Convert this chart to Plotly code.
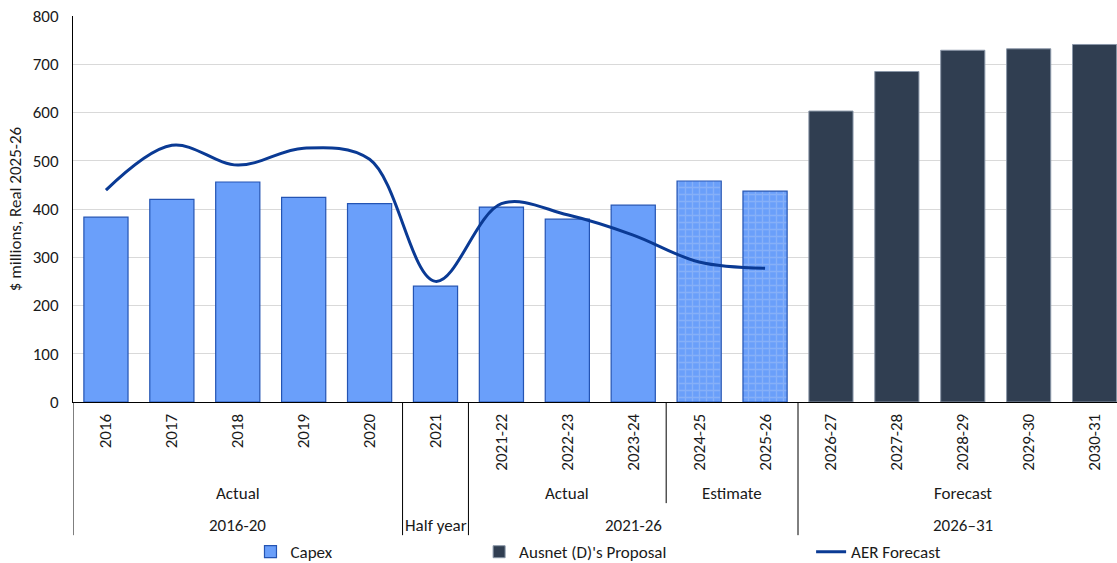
import plotly.graph_objects as go

# Category labels (bottom level: year / financial year)
years = ["2016", "2017", "2018", "2019", "2020", "2021",
         "2021-22", "2022-23", "2023-24", "2024-25", "2025-26",
         "2026-27", "2027-28", "2028-29", "2029-30", "2030-31"]
# Second level: status of each value
phase = ["Actual"] * 5 + [""] + ["Actual"] * 3 + ["Estimate"] * 2 + ["Forecast"] * 5
# Third level: regulatory period
period = ["2016-20"] * 5 + ["Half year"] + ["2021-26"] * 5 + ["2026\u201331"] * 5

# Capex (actual + estimate), $m real 2025-26
capex_years = years[:11]
capex_values = [383, 420, 456, 424, 411, 240, 404, 379, 408, 458, 437]
capex_pattern = ["", "", "", "", "", "", "", "", "", "+", "+"]

# Ausnet (D)'s proposal for 2026-31
proposal_years = years[11:]
proposal_values = [603, 685, 729, 732, 741]

# AER forecast line
aer_years = years[:11]
aer_values = [439, 532, 491, 526, 503, 250, 411, 388, 346, 290, 277]

FONT = "Carlito, Calibri, Lato, sans-serif"
TXT = "#1a1a1a"
FS = 17

fig = go.Figure()

fig.add_trace(go.Bar(
    x=capex_years, y=capex_values, name="Capex", width=0.67,
    marker=dict(color="#6a9ffa", line=dict(color="#2454b3", width=1.2),
                pattern=dict(shape=capex_pattern, fgcolor="#a2c1f6",
                             size=7, solidity=0.35, fillmode="overlay")),
    legend="legend", showlegend=True,
))
fig.add_trace(go.Bar(
    x=proposal_years, y=proposal_values, name="Ausnet (D)'s Proposal", width=0.67,
    marker=dict(color="#303e51", line=dict(color="#8a97a8", width=1)),
    legend="legend2", showlegend=True,
))
fig.add_trace(go.Scatter(
    x=aer_years, y=aer_values, name="AER Forecast", mode="lines",
    line=dict(color="#0a3a94", width=3, shape="spline", smoothing=1.0),
    legend="legend3", showlegend=True,
))

# Group labels and separators below the axis
def runs(labels):
    out = []
    start = 0
    for i in range(1, len(labels) + 1):
        if i == len(labels) or labels[i] != labels[start]:
            out.append((labels[start], start, i - 1))
            start = i
    return out

Y_PHASE = -0.236
Y_PERIOD = -0.319
Y_BOTTOM = -0.345
Y_PHASE_BOTTOM = -0.262

shapes = []
annotations = []
period_runs = runs(period)
phase_runs = runs(phase)

label_font = dict(size=FS, family=FONT, color=TXT)
for label, a, b in period_runs:
    annotations.append(dict(x=(a + b) / 2, y=Y_PERIOD, xref="x", yref="paper",
                            xanchor="center", yanchor="middle",
                            text=label, showarrow=False, font=label_font))
for label, a, b in phase_runs:
    if label:
        annotations.append(dict(x=(a + b) / 2, y=Y_PHASE, xref="x", yref="paper",
                                xanchor="center", yanchor="middle",
                                text=label, showarrow=False, font=label_font))

period_edges = {b + 0.5 for _, a, b in period_runs} | {-0.5}
phase_edges = {b + 0.5 for _, a, b in phase_runs}
for e in sorted(period_edges):
    shapes.append(dict(type="line", xref="x", yref="paper", x0=e, x1=e, y0=0, y1=Y_BOTTOM,
                       line=dict(color="#000000", width=1)))
for e in sorted(phase_edges - period_edges):
    shapes.append(dict(type="line", xref="x", yref="paper", x0=e, x1=e, y0=0, y1=Y_PHASE_BOTTOM,
                       line=dict(color="#000000", width=1)))

legend_common = dict(orientation="h", yanchor="middle", y=-0.389, xanchor="left",
                     font=dict(size=FS, family=FONT, color=TXT), bgcolor="rgba(0,0,0,0)",
                     itemwidth=30, visible=True)

fig.update_layout(
    width=1117, height=563,
    margin=dict(l=73, r=0, t=16, b=161, autoexpand=False),
    paper_bgcolor="white", plot_bgcolor="white",
    barmode="overlay",
    showlegend=True,
    font=dict(family=FONT, size=FS, color=TXT),
    shapes=shapes, annotations=annotations,
    legend=dict(x=0.170, **legend_common),
    legend2=dict(x=0.389, **legend_common),
    legend3=dict(x=0.707, **legend_common),
    xaxis=dict(type="category", categoryorder="array", categoryarray=years,
               range=[-0.5, 15.34], tickangle=-90, showline=True, linecolor="#000000",
               linewidth=1, ticks="", showgrid=False, ticklabelstandoff=4,
               tickfont=dict(size=FS, family=FONT, color=TXT)),
    yaxis=dict(range=[0, 800], dtick=100, showgrid=True, gridcolor="#d9d9d9",
               showline=True, linecolor="#000000", linewidth=1, ticks="", zeroline=False,
               ticklabelstandoff=10,
               tickfont=dict(size=FS, family=FONT, color=TXT),
               title=dict(text="$ millions, Real 2025-26", font=dict(size=FS, family=FONT, color=TXT),
                          standoff=6)),
)

fig.write_html("out.html")
